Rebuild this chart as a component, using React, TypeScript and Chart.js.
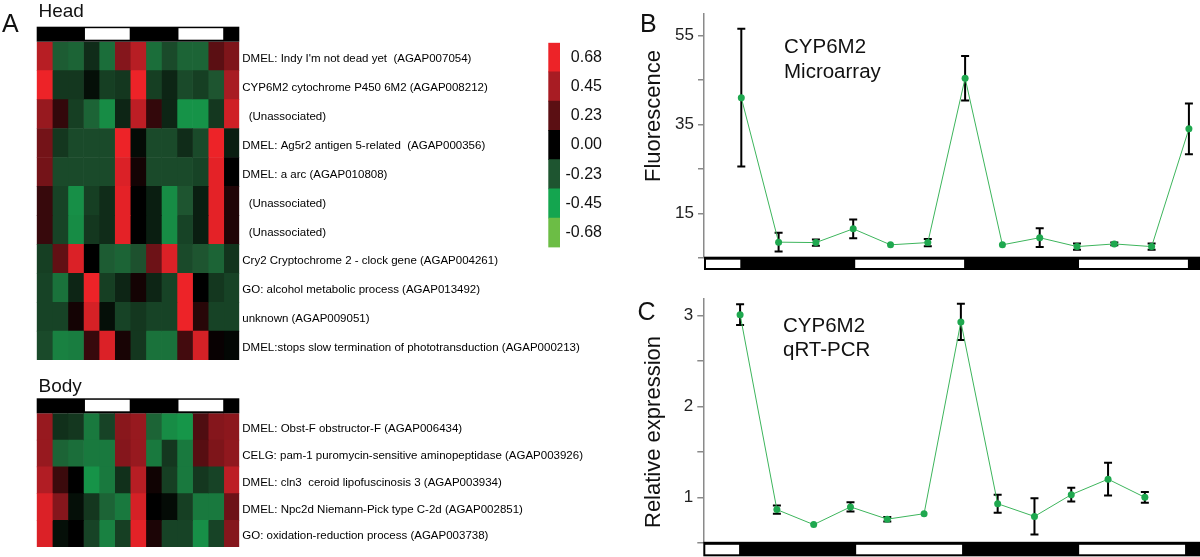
import React, { useEffect, useRef } from 'react';
import { Chart, registerables } from 'chart.js';

Chart.register(...registerables);

const FONT = '"Liberation Sans", Arial, Helvetica, sans-serif';

// ---------------- Heatmap data ----------------
const timeColumns = ['T1', 'T2', 'T3', 'T4', 'T5', 'T6', 'T7', 'T8', 'T9', 'T10', 'T11', 'T12', 'T13'];
const lightColumns = [0, 0, 0, 1, 1, 1, 0, 0, 0, 1, 1, 1, 0];

const headGenes = [
  "DMEL: Indy I'm not dead yet  (AGAP007054)",
  'CYP6M2 cytochrome P450 6M2 (AGAP008212)',
  '  (Unassociated)',
  'DMEL: Ag5r2 antigen 5-related  (AGAP000356)',
  'DMEL: a arc (AGAP010808)',
  '  (Unassociated)',
  '  (Unassociated)',
  'Cry2 Cryptochrome 2 - clock gene (AGAP004261)',
  'GO: alcohol metabolic process (AGAP013492)',
  'unknown (AGAP009051)',
  'DMEL:stops slow termination of phototransduction (AGAP000213)',
];

const headValues = [
  [0.5, -0.25, -0.27, -0.12, -0.3, 0.35, 0.5, -0.3, -0.2, -0.27, -0.27, 0.23, 0.33],
  [0.68, -0.15, -0.15, -0.04, -0.17, -0.15, 0.68, -0.17, -0.1, -0.2, -0.17, -0.23, 0.45],
  [0.4, 0.13, -0.17, -0.27, -0.38, -0.1, 0.52, 0.13, -0.1, -0.4, -0.4, -0.15, 0.58],
  [0.3, -0.15, -0.2, -0.2, -0.2, 0.68, -0.03, -0.2, -0.2, -0.12, -0.2, 0.68, -0.08],
  [0.3, -0.2, -0.2, -0.2, -0.2, 0.62, 0.05, -0.2, -0.2, -0.2, -0.18, 0.65, 0.0],
  [0.14, -0.18, -0.39, -0.17, -0.12, 0.65, 0.0, -0.08, -0.38, -0.23, -0.08, 0.65, 0.08],
  [0.14, -0.18, -0.38, -0.15, -0.12, 0.65, 0.0, -0.08, -0.38, -0.18, -0.08, 0.65, 0.08],
  [-0.17, 0.25, 0.62, 0.0, -0.25, -0.27, -0.22, 0.28, 0.62, -0.2, -0.23, -0.27, -0.14],
  [-0.18, -0.31, -0.1, 0.7, -0.17, -0.1, 0.05, -0.1, -0.18, 0.68, 0.0, -0.15, -0.18],
  [-0.18, -0.18, 0.05, 0.6, -0.04, -0.18, -0.15, -0.18, -0.18, 0.7, 0.1, -0.18, -0.18],
  [-0.2, -0.35, -0.34, 0.14, 0.62, 0.06, -0.15, -0.31, -0.31, 0.17, 0.6, 0.02, -0.02],
];

const bodyGenes = [
  'DMEL: Obst-F obstructor-F (AGAP006434)',
  'CELG: pam-1 puromycin-sensitive aminopeptidase (AGAP003926)',
  'DMEL: cln3  ceroid lipofuscinosis 3 (AGAP003934)',
  'DMEL: Npc2d Niemann-Pick type C-2d (AGAP002851)',
  'GO: oxidation-reduction process (AGAP003738)',
];

const bodyValues = [
  [0.4, -0.13, -0.15, -0.33, -0.18, 0.36, 0.4, -0.27, -0.38, -0.41, 0.2, 0.35, 0.37],
  [0.4, -0.27, -0.3, -0.33, -0.33, 0.35, 0.4, -0.33, -0.15, -0.33, 0.22, 0.33, 0.38],
  [0.48, 0.15, 0.0, -0.4, -0.33, -0.13, 0.5, 0.04, -0.17, -0.33, -0.15, -0.18, 0.52],
  [0.62, 0.35, -0.04, -0.15, -0.27, -0.33, 0.6, 0.0, -0.03, -0.17, -0.33, -0.33, 0.28],
  [0.62, -0.04, 0.0, -0.18, -0.35, -0.17, 0.65, 0.07, -0.18, -0.18, -0.39, -0.18, 0.35],
];

// colour key (top to bottom)
const legendValues = [0.68, 0.45, 0.23, 0, -0.23, -0.45, -0.68];
const legendLabels = ['0.68', '0.45', '0.23', '0.00', '-0.23', '-0.45', '-0.68'];
const legendColors = ['#ed2328', '#a81c23', '#5b0f13', '#000000', '#1e5530', '#14a54f', '#6cbd45'];

// ---------------- Line chart data ----------------
const timePointsB = [0, 1, 2, 3, 4, 5, 6, 7, 8, 9, 10, 11, 12];
const fluorMean = [41.0, 8.5, 8.4, 11.5, 7.9, 8.4, 45.4, 7.9, 9.5, 7.5, 8.1, 7.5, 34.0];
const fluorErr = [15.5, 2.1, 0.7, 2.1, 0, 0.8, 5.0, 0, 2.1, 0.7, 0.3, 0.7, 5.7];
const yTicksB = [5, 15, 25, 35, 45, 55];
const yLabelsB = [15, 35, 55];
const barEdgesB = [-1, 0, 3, 6, 9, 12, 13.5];

const timePointsC = [0, 1, 2, 3, 4, 5, 6, 7, 8, 9, 10, 11];
const qpcrMean = [3.01, 0.865, 0.7, 0.895, 0.76, 0.82, 2.93, 0.93, 0.79, 1.03, 1.2, 1.0];
const qpcrErr = [0.115, 0.045, 0, 0.05, 0.025, 0, 0.2, 0.1, 0.2, 0.075, 0.18, 0.06];
const yTicksC = [0.5, 1, 1.5, 2, 2.5, 3];
const yLabelsC = [1, 2, 3];
const barEdgesC = [-1, 0, 3.1, 6.06, 9.16, 12.12, 13.5];

const barLight = [1, 0, 1, 0, 1, 0];

// ---------------- helpers ----------------
function hexToRgb(h: string) {
  const n = parseInt(h.slice(1), 16);
  return [(n >> 16) & 255, (n >> 8) & 255, n & 255];
}

function heatColor(v: number) {
  if (v >= legendValues[0]) return legendColors[0];
  const last = legendValues.length - 1;
  if (v <= legendValues[last]) return legendColors[last];
  for (let i = 0; i < last; i++) {
    const a = legendValues[i];
    const b = legendValues[i + 1];
    if (v <= a && v >= b) {
      const t = (a - v) / (a - b);
      const c1 = hexToRgb(legendColors[i]);
      const c2 = hexToRgb(legendColors[i + 1]);
      const c = c1.map((x, k) => Math.round(x + (c2[k] - x) * t));
      return `rgb(${c[0]},${c[1]},${c[2]})`;
    }
  }
  return '#000';
}

const heatLightBar = {
  id: 'heatLightBar',
  afterDraw(chart: any) {
    const { ctx, chartArea, scales } = chart;
    const x = scales.x;
    const h = 15;
    const top = chartArea.top - h;
    const x0 = x.getPixelForValue(0);
    const x1 = x.getPixelForValue(timeColumns.length);
    ctx.save();
    ctx.fillStyle = '#000';
    ctx.fillRect(x0, top, x1 - x0, h);
    ctx.fillStyle = '#fff';
    let i = 0;
    while (i < lightColumns.length) {
      if (lightColumns[i]) {
        let j = i;
        while (j + 1 < lightColumns.length && lightColumns[j + 1]) j++;
        const a = x.getPixelForValue(i);
        const b = x.getPixelForValue(j + 1);
        ctx.fillRect(a + 1.5, top + 1.5, b - a - 2, h - 3.5);
        i = j + 1;
      } else i++;
    }
    ctx.restore();
  },
};

function makeHeatmap(canvas: HTMLCanvasElement, genes: string[], values: number[][], padTop: number, padBottom: number) {
  const W = canvas.width;
  return new Chart(canvas, {
    type: 'bar',
    data: {
      labels: genes,
      datasets: timeColumns.map((c, ci) => ({
        label: c,
        data: genes.map(() => 1),
        backgroundColor: values.map((row) => heatColor(row[ci])),
        borderWidth: 0,
        barPercentage: 1,
        categoryPercentage: 1,
      })),
    },
    options: {
      indexAxis: 'y',
      responsive: false,
      animation: false,
      events: [],
      layout: { padding: { left: 36.7, right: 0, top: padTop, bottom: padBottom } },
      plugins: { legend: { display: false }, tooltip: { enabled: false } },
      scales: {
        x: { type: 'linear', stacked: true, min: 0, max: timeColumns.length, display: false },
        y: {
          stacked: true,
          position: 'right',
          grid: { display: false, drawTicks: false },
          border: { display: false },
          ticks: { font: { family: FONT, size: 11.5 }, color: '#000', padding: 3, autoSkip: false, labelOffset: 2.5 },
          afterFit: (s: any) => {
            s.width = W - 239.3;
          },
        },
      },
    } as any,
    plugins: [heatLightBar],
  });
}

function makeLegend(canvas: HTMLCanvasElement) {
  const n = legendColors.length;
  const labelWidth = 42;
  const padLeft = 8.3;
  const barWidth = 11.7;
  return new Chart(canvas, {
    type: 'bar',
    data: {
      labels: ['key'],
      datasets: legendColors
        .slice()
        .reverse()
        .map((c, i) => ({
          label: legendLabels[n - 1 - i],
          data: [1],
          backgroundColor: c,
          borderWidth: 0,
          barPercentage: 1,
          categoryPercentage: 1,
        })),
    },
    options: {
      responsive: false,
      animation: false,
      events: [],
      layout: {
        padding: { left: padLeft, right: canvas.width - padLeft - barWidth - labelWidth, top: 12.7, bottom: 10.7 },
      },
      plugins: { legend: { display: false }, tooltip: { enabled: false } },
      scales: {
        x: { stacked: true, display: false },
        y: {
          type: 'linear',
          stacked: true,
          min: 0,
          max: n,
          position: 'right',
          grid: { display: false, drawTicks: false },
          border: { display: false },
          afterBuildTicks: (s: any) => {
            s.ticks = legendLabels.map((_, i) => ({ value: n - 1 - i + 0.5 }));
          },
          afterFit: (s: any) => {
            s.width = labelWidth;
          },
          ticks: {
            autoSkip: false,
            padding: 3,
            crossAlign: 'far',
            font: { family: FONT, size: 16 },
            color: '#111',
            callback: (v: any) => legendLabels[n - 1 - Math.floor(v)],
          },
        },
      },
    } as any,
  });
}

function lineLightBar(edges: number[], barH: number) {
  return {
    id: 'lineLightBar',
    afterDraw(chart: any) {
      const { ctx, chartArea, scales } = chart;
      const x = scales.x;
      const top = chartArea.bottom - 1;
      const x0 = x.getPixelForValue(edges[0]);
      const x1 = x.getPixelForValue(edges[edges.length - 1]);
      ctx.save();
      ctx.fillStyle = '#000';
      ctx.fillRect(x0, top, x1 - x0, barH);
      ctx.fillStyle = '#fff';
      for (let i = 0; i < barLight.length; i++) {
        if (!barLight[i]) continue;
        const a = x.getPixelForValue(edges[i]);
        const b = x.getPixelForValue(edges[i + 1]);
        ctx.fillRect(a + 2, top + 3, b - a - 3, barH - 5);
      }
      ctx.restore();
    },
  };
}

function errorBars(errs: number[]) {
  return {
    id: 'errorBars',
    beforeDatasetsDraw(chart: any) {
      const { ctx, scales } = chart;
      const y = scales.y;
      const meta = chart.getDatasetMeta(0);
      const data = chart.data.datasets[0].data;
      ctx.save();
      ctx.strokeStyle = '#000';
      ctx.lineWidth = 2;
      meta.data.forEach((pt: any, i: number) => {
        const e = errs[i];
        if (!e) return;
        const v = data[i].y;
        const yt = y.getPixelForValue(v + e);
        const yb = y.getPixelForValue(v - e);
        ctx.beginPath();
        ctx.moveTo(pt.x, yt);
        ctx.lineTo(pt.x, yb);
        ctx.moveTo(pt.x - 4, yt);
        ctx.lineTo(pt.x + 4, yt);
        ctx.moveTo(pt.x - 4, yb);
        ctx.lineTo(pt.x + 4, yb);
        ctx.stroke();
      });
      ctx.restore();
    },
  };
}

function makeLine(
  canvas: HTMLCanvasElement,
  xs: number[],
  means: number[],
  errs: number[],
  cfg: {
    xMax: number;
    yMin: number;
    yMax: number;
    yTicks: number[];
    yLabels: number[];
    edges: number[];
    barH: number;
    padTop: number;
    padBottom: number;
    axisWidth: number;
  }
) {
  return new Chart(canvas, {
    type: 'line',
    data: {
      datasets: [
        {
          data: xs.map((t, i) => ({ x: t, y: means[i] })),
          borderColor: '#3db55c',
          borderWidth: 1,
          backgroundColor: '#1fa84f',
          pointBackgroundColor: '#1fa84f',
          pointBorderWidth: 0,
          pointRadius: 3.5,
          tension: 0,
        },
      ],
    },
    options: {
      responsive: false,
      animation: false,
      events: [],
      layout: { padding: { left: 0, right: 0, top: cfg.padTop, bottom: cfg.padBottom } },
      plugins: { legend: { display: false }, tooltip: { enabled: false } },
      scales: {
        x: { type: 'linear', min: -1, max: cfg.xMax, display: false },
        y: {
          type: 'linear',
          min: cfg.yMin,
          max: cfg.yMax,
          afterBuildTicks: (s: any) => {
            s.ticks = cfg.yTicks.map((v) => ({ value: v }));
          },
          afterFit: (s: any) => {
            s.width = cfg.axisWidth;
          },
          ticks: {
            autoSkip: false,
            padding: 4,
            font: { family: FONT, size: 17 },
            color: '#222',
            callback: (v: any) => (cfg.yLabels.includes(v) ? String(v) : ''),
          },
          grid: { drawOnChartArea: false, drawTicks: true, tickLength: 6, color: '#8a8a8a', lineWidth: 1.5 },
          border: { color: '#8a8a8a', width: 1.5 },
        },
      },
    } as any,
    plugins: [errorBars(errs), lineLightBar(cfg.edges, cfg.barH)],
  });
}

// ---------------- component ----------------
const txt = (left: number, top: number, size: number): React.CSSProperties => ({
  position: 'absolute',
  left,
  top,
  fontSize: size,
  lineHeight: `${size}px`,
  whiteSpace: 'pre',
  color: '#111',
});

const vtxt = (cx: number, cy: number, size: number): React.CSSProperties => ({
  position: 'absolute',
  left: cx - 150,
  top: cy - size / 2,
  width: 300,
  height: size,
  fontSize: size,
  lineHeight: `${size}px`,
  textAlign: 'center',
  whiteSpace: 'pre',
  transform: 'rotate(-90deg)',
  transformOrigin: '50% 50%',
  color: '#111',
});

export default function App() {
  const headRef = useRef<HTMLCanvasElement>(null);
  const bodyRef = useRef<HTMLCanvasElement>(null);
  const legendRef = useRef<HTMLCanvasElement>(null);
  const bRef = useRef<HTMLCanvasElement>(null);
  const cRef = useRef<HTMLCanvasElement>(null);

  useEffect(() => {
    const charts = [
      makeHeatmap(headRef.current!, headGenes, headValues, 41.7, 2.7),
      makeHeatmap(bodyRef.current!, bodyGenes, bodyValues, 33.3, 3.7),
      makeLegend(legendRef.current!),
      makeLine(bRef.current!, timePointsB, fluorMean, fluorErr, {
        xMax: 12.19,
        yMin: 5,
        yMax: 59.8,
        yTicks: yTicksB,
        yLabels: yLabelsB,
        edges: barEdgesB,
        barH: 13.3,
        padTop: 13,
        padBottom: 14.3,
        axisWidth: 74,
      }),
      makeLine(cRef.current!, timePointsC, qpcrMean, qpcrErr, {
        xMax: 12.39,
        yMin: 0.5,
        yMax: 3.19,
        yTicks: yTicksC,
        yLabels: yLabelsC,
        edges: barEdgesC,
        barH: 14.5,
        padTop: 18.3,
        padBottom: 13.7,
        axisWidth: 73.3,
      }),
    ];
    return () => charts.forEach((c) => c.destroy());
  }, []);

  const abs = (l: number, t: number, w: number, h: number): React.CSSProperties => ({
    position: 'absolute',
    left: l,
    top: t,
    width: w,
    height: h,
    display: 'block',
  });

  return (
    <div
      style={{
        position: 'absolute',
        left: 0,
        top: 0,
        width: 1200,
        height: 557,
        overflow: 'hidden',
        background: '#fff',
        fontFamily: FONT,
      }}
    >
      <canvas ref={headRef} width={640} height={370} style={abs(0, 0, 640, 370)} />
      <canvas ref={bodyRef} width={640} height={177} style={abs(0, 380, 640, 177)} />
      <canvas ref={legendRef} width={90} height={230} style={abs(540, 30, 90, 230)} />
      <canvas ref={bRef} width={570} height={272} style={abs(630, 0, 570, 272)} />
      <canvas ref={cRef} width={570} height={277} style={abs(630, 280, 570, 277)} />

      <div style={txt(2, 10.5, 25)}>A</div>
      <div style={txt(38.5, 0.6, 19)}>Head</div>
      <div style={txt(38.5, 375.6, 19)}>Body</div>
      <div style={txt(640, 10.5, 25)}>B</div>
      <div style={txt(637.5, 298.5, 25)}>C</div>
      <div style={txt(784, 36.4, 20.5)}>CYP6M2</div>
      <div style={txt(784, 61.4, 20.5)}>Microarray</div>
      <div style={txt(783, 314.8, 20.5)}>CYP6M2</div>
      <div style={txt(783, 339.1, 20.5)}>qRT-PCR</div>
      <div style={vtxt(653.2, 116, 22)}>Fluorescence</div>
      <div style={vtxt(653.2, 432, 22)}>Relative expression</div>
    </div>
  );
}
